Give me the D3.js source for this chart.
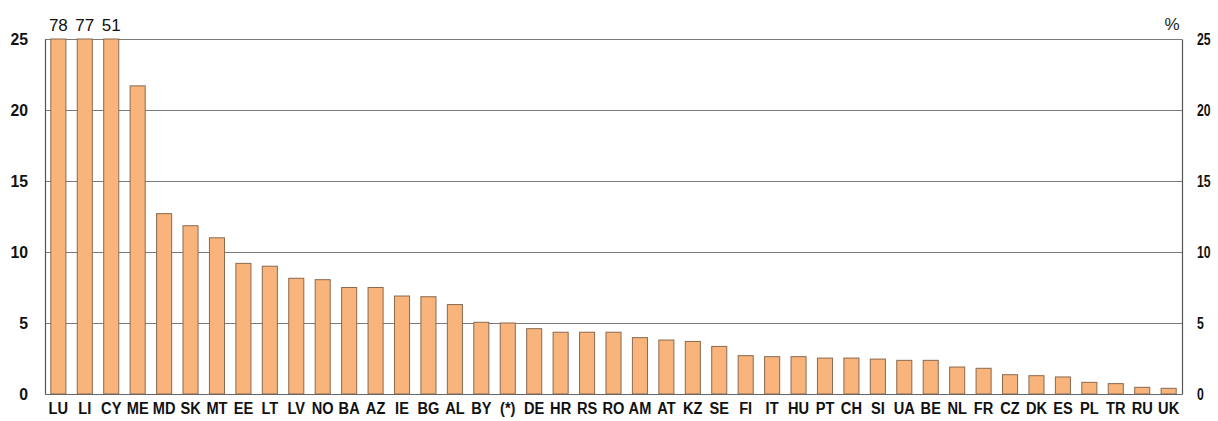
<!DOCTYPE html>
<html><head><meta charset="utf-8">
<script src="https://cdn.jsdelivr.net/npm/d3@7"></script>
<style>
html,body{margin:0;padding:0;background:#fff;}
svg{display:block;}
</style></head>
<body>
<svg id="chart" width="1218" height="421"></svg>
<script>
const categories = ["LU","LI","CY","ME","MD","SK","MT","EE","LT","LV","NO","BA","AZ","IE","BG","AL","BY","(*)","DE","HR","RS","RO","AM","AT","KZ","SE","FI","IT","HU","PT","CH","SI","UA","BE","NL","FR","CZ","DK","ES","PL","TR","RU","UK"];
const values = [78,77,51,21.7,12.7,11.85,11.0,9.2,9.0,8.15,8.05,7.5,7.5,6.9,6.85,6.3,5.05,5.0,4.6,4.35,4.35,4.35,3.97,3.8,3.7,3.35,2.7,2.63,2.63,2.53,2.53,2.46,2.37,2.37,1.9,1.81,1.36,1.29,1.2,0.82,0.73,0.47,0.4];
const yTicks = [0,5,10,15,20,25];
const unitLabel = "%";

const FONT = "'Liberation Sans',Arial,sans-serif";
const svg = d3.select("#chart");
const m = {left:45, right:36, top:39, bottom:27};
const W = 1218, H = 421;
const x = d3.scaleBand().domain(categories).range([m.left, W - m.right]).paddingInner(0.43).paddingOuter(0.22);
const y = d3.scaleLinear().domain([0,25]).range([H - m.bottom, m.top]);

// gridlines
svg.append("g").selectAll("line").data(yTicks.filter(d=>d>0)).join("line")
  .attr("x1", m.left).attr("x2", W - m.right)
  .attr("y1", d=>y(d)).attr("y2", d=>y(d))
  .attr("stroke", "#7a7a7a").attr("stroke-width", 1).attr("shape-rendering","crispEdges");

// bars
svg.append("g").selectAll("rect").data(categories).join("rect")
  .attr("x", d=>x(d))
  .attr("width", x.bandwidth())
  .attr("y", (d,i)=>y(Math.min(values[i],25)))
  .attr("height", (d,i)=>y(0)-y(Math.min(values[i],25)))
  .attr("fill", "#F8B47A").attr("stroke", "#8a6a50").attr("stroke-width", 1);

// clipped value labels
svg.append("g").selectAll("text").data(categories.filter((d,i)=>values[i]>25)).join("text")
  .attr("x", d=>x(d)+x.bandwidth()/2)
  .attr("y", y(25) - 8)
  .attr("text-anchor","middle")
  .attr("font-family",FONT)
  .attr("font-size", 17).attr("fill","#111")
  .text(d=>values[categories.indexOf(d)]);

// axes
const axL = svg.append("g").attr("transform",`translate(${m.left},0)`)
  .call(d3.axisLeft(y).tickValues(yTicks).tickSize(0));
const axR = svg.append("g").attr("transform",`translate(${W-m.right},0)`)
  .call(d3.axisRight(y).tickValues(yTicks).tickSize(0));
const axB = svg.append("g").attr("transform",`translate(0,${y(0)})`)
  .call(d3.axisBottom(x).tickSize(0));
[axL,axR,axB].forEach(a=>{
  a.select(".domain").attr("stroke","#555").attr("stroke-width",1.2);
  a.selectAll("text").attr("font-family",FONT)
   .attr("font-weight","bold").attr("font-size",17).attr("fill","#111");
});
axB.select(".domain").attr("stroke","#666");
function squeeze(sel, tx, ty, sx){
  sel.selectAll("text").attr("x",0).attr("y",0)
    .attr("transform",`translate(${tx},${ty}) scale(${sx},1)`);
}
squeeze(axL, -17, 0, 0.93);
squeeze(axR, 15, 0, 0.72);
axR.selectAll("text").attr("text-anchor","start");
squeeze(axB, 0, 20, 0.86);
axB.selectAll("text").attr("dy", null);

svg.append("text").attr("x", W - m.right - 10).attr("y", y(25) - 9)
  .attr("text-anchor","middle")
  .attr("font-family",FONT)
  .attr("font-size",17).attr("fill","#222").text(unitLabel);
</script>
</body></html>
